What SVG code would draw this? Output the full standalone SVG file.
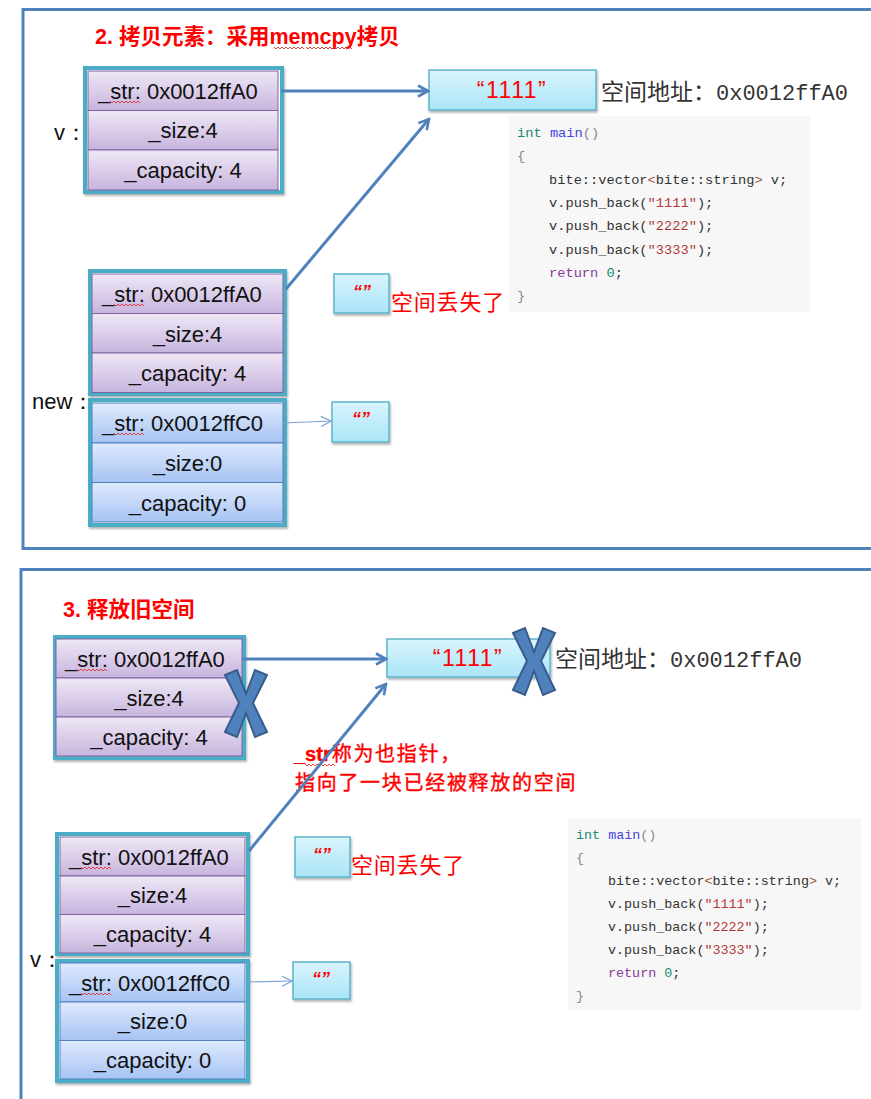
<svg xmlns="http://www.w3.org/2000/svg" width="871" height="1099" viewBox="0 0 871 1099">
<defs>
<linearGradient id="gPurple" x1="0" y1="0" x2="0" y2="1"><stop offset="0" stop-color="#efe8f6"/><stop offset="1" stop-color="#c7b4de"/></linearGradient>
<linearGradient id="gBlue" x1="0" y1="0" x2="0" y2="1"><stop offset="0" stop-color="#dfeafd"/><stop offset="1" stop-color="#a6c3f3"/></linearGradient>
<linearGradient id="gCyan" x1="0" y1="0" x2="0" y2="1"><stop offset="0" stop-color="#daf4fc"/><stop offset="1" stop-color="#a9e5f7"/></linearGradient>
<filter id="sh" x="-10%" y="-10%" width="125%" height="130%"><feDropShadow dx="1" dy="2" stdDeviation="1.2" flood-color="#000" flood-opacity="0.3"/></filter>
<marker id="ahThick" viewBox="0 0 14 14" refX="12" refY="7" markerWidth="14" markerHeight="14" markerUnits="userSpaceOnUse" orient="auto">
<path d="M2,1.5 L12,7 L2,12.5" fill="none" stroke="#4f81bd" stroke-width="2.6" stroke-linejoin="miter"/>
</marker>
<marker id="ahThin" viewBox="0 0 12 12" refX="11" refY="6" markerWidth="12" markerHeight="12" markerUnits="userSpaceOnUse" orient="auto">
<path d="M1,1 L11,6 L1,11" fill="none" stroke="#7aa3d6" stroke-width="1.2"/>
</marker>
<path id="squig" d="M0,0 l2,2 l2,-2 l2,2 l2,-2 l2,2 l2,-2 l2,2 l2,-2 l2,2 l2,-2 l2,2 l2,-2 l2,2 l2,-2 l2,2" fill="none" stroke="#e03030" stroke-width="0.9"/>
<polygon id="bigX" points="0,5 12,0 21,24 30,0 42,5 28,33 42,62 30,67 21,43 12,67 0,62 14,33" fill="#4f81bd" stroke="#385d8a" stroke-width="2" stroke-linejoin="miter"/>
</defs>
<style>
.frame{fill:none;stroke:#4f81bd;stroke-width:3}
.teal{fill:#ffffff;stroke:#4bacc6;stroke-width:4}
.rowP{fill:url(#gPurple);stroke:#8064a2;stroke-width:1}
.rowB{fill:url(#gBlue);stroke:#4f81bd;stroke-width:1}
.cbox{fill:url(#gCyan);stroke:#5fb3cb;stroke-width:1.5}
.ft{font-family:"Liberation Sans",Arial,sans-serif;font-size:22px;fill:#111}
.mid{text-anchor:middle}
.title{font-family:"Liberation Sans","Noto Sans CJK SC",sans-serif;font-size:21.5px;font-weight:bold;fill:#ff0000}
.red{font-family:"Noto Sans CJK SC",sans-serif;fill:#ff0000}
.lost{font-size:22px;letter-spacing:0.8px}
.note{font-size:20px;letter-spacing:1.7px;stroke:#ff0000;stroke-width:0.4}
.addr{font-family:"Noto Sans CJK SC",sans-serif;font-size:23px;fill:#333}
.addrL{font-family:"Liberation Mono",monospace;font-size:22px}
.q{font-family:"Liberation Sans",sans-serif;font-size:18px;font-style:italic;font-weight:bold;fill:#ff0000;text-anchor:middle}
.s1111{font-family:"Liberation Sans",sans-serif;font-size:23px;letter-spacing:1.5px;fill:#ff0000;text-anchor:middle}
.code{font-family:"Liberation Mono",monospace;fill:#333}
.cbg{fill:#f7f7f7}
.kw{fill:#1a8a70}
.fn{fill:#4545e0}
.pu{fill:#888}
.st{fill:#b03a3a}
.rt{fill:#8a3a9a}
.ang{fill:#9a5a3a}
.thick{fill:none;stroke:#4f81bd;stroke-width:3;marker-end:url(#ahThick)}
.thin{fill:none;stroke:#7aa3d6;stroke-width:1.2;marker-end:url(#ahThin)}
</style>
<rect width="871" height="1099" fill="#ffffff"/>

<!-- panel frames -->
<rect class="frame" x="23" y="9.5" width="900" height="539"/>
<rect class="frame" x="21" y="569.5" width="900" height="600"/>

<!-- ===== top panel ===== -->
<g id="title2"><text class="title" x="95" y="44">2. 拷贝元素：采用memcpy拷贝</text><use href="#squig" x="274" y="47"/><use href="#squig" x="306" y="47"/><use href="#squig" x="322" y="47"/></g>

<g id="labelV1"><text class="ft" x="54" y="140">v：</text></g>

<g id="structV1">
<rect class="teal" x="85" y="68" width="197" height="124" filter="url(#sh)"/>
<rect class="rowP" x="88" y="71" width="190" height="39.5"/>
<rect class="rowP" x="88" y="110.5" width="190" height="39.5"/>
<rect class="rowP" x="88" y="150" width="190" height="40"/>
<text class="ft" x="98" y="99">_str: 0x0012ffA0</text>
<use href="#squig" x="110" y="101"/>
<text class="ft mid" x="183" y="138">_size:4</text>
<text class="ft mid" x="183" y="178">_capacity: 4</text>
</g>

<g id="box1111a">
<rect class="cbox" x="429" y="70" width="167" height="40" filter="url(#sh)"/>
<text class="s1111" x="512" y="98">“1111”</text>
</g>
<g id="addrA"><text class="addr" x="601" y="100">空间地址：<tspan class="addrL">0x0012ffA0</tspan></text></g>

<g id="codeA">
<rect class="cbg" x="509" y="116" width="301" height="196"/>
<g class="code" font-size="13.7px">
<text x="517" y="137"><tspan class="kw">int</tspan> <tspan class="fn">main</tspan><tspan class="pu">()</tspan></text>
<text x="517" y="160.3" class="pu">{</text>
<text x="549" y="183.6">bite::vector<tspan class="ang">&lt;</tspan>bite::string<tspan class="ang">&gt;</tspan> v;</text>
<text x="549" y="206.9">v.push_back(<tspan class="st">"1111"</tspan>);</text>
<text x="549" y="230.2">v.push_back(<tspan class="st">"2222"</tspan>);</text>
<text x="549" y="253.5">v.push_back(<tspan class="st">"3333"</tspan>);</text>
<text x="549" y="276.8"><tspan class="rt">return</tspan> <tspan class="kw">0</tspan>;</text>
<text x="517" y="300.1" class="pu">}</text>
</g>
</g>

<g id="labelNew"><text class="ft" x="32" y="409">new：</text></g>

<g id="structOldA">
<rect class="teal" x="90" y="271" width="195" height="123" filter="url(#sh)"/>
<rect class="rowP" x="92" y="274" width="191" height="39.5"/>
<rect class="rowP" x="92" y="313.5" width="191" height="39.5"/>
<rect class="rowP" x="92" y="353" width="191" height="39.5"/>
<text class="ft" x="102" y="302">_str: 0x0012ffA0</text>
<use href="#squig" x="114" y="304"/>
<text class="ft mid" x="187.5" y="341.5">_size:4</text>
<text class="ft mid" x="187.5" y="381">_capacity: 4</text>
</g>

<g id="structNewA">
<rect class="teal" x="90" y="400" width="195" height="125" filter="url(#sh)"/>
<rect class="rowB" x="92" y="403" width="191" height="40"/>
<rect class="rowB" x="92" y="443" width="191" height="39.5"/>
<rect class="rowB" x="92" y="482.5" width="191" height="39.5"/>
<text class="ft" x="102" y="431">_str: 0x0012ffC0</text>
<use href="#squig" x="114" y="433"/>
<text class="ft mid" x="187.5" y="471">_size:0</text>
<text class="ft mid" x="187.5" y="510.5">_capacity: 0</text>
</g>

<g id="emptyA1">
<rect class="cbox" x="334" y="274" width="55" height="39" filter="url(#sh)"/>
<text class="q" x="362" y="298">“”</text>
</g>
<g id="lostA"><text class="red lost" x="391" y="310">空间丢失了</text></g>

<g id="emptyA2">
<rect class="cbox" x="332" y="402" width="57" height="40" filter="url(#sh)"/>
<text class="q" x="361" y="425">“”</text>
</g>

<!-- ===== bottom panel ===== -->
<g id="title3"><text class="title" x="63" y="617">3. 释放旧空间</text></g>

<g id="structOldB">
<rect class="teal" x="55" y="637" width="189" height="121" filter="url(#sh)"/>
<rect class="rowP" x="56" y="639" width="186" height="39"/>
<rect class="rowP" x="56" y="678" width="186" height="39"/>
<rect class="rowP" x="56" y="717" width="186" height="39"/>
<text class="ft" x="65" y="666.5">_str: 0x0012ffA0</text>
<use href="#squig" x="77" y="669"/>
<text class="ft mid" x="149" y="705.5">_size:4</text>
<text class="ft mid" x="149" y="744.5">_capacity: 4</text>
</g>

<g id="box1111b">
<rect class="cbox" x="387" y="639" width="163" height="38" filter="url(#sh)"/>
<text class="s1111" x="468" y="666">“1111”</text>
</g>
<g id="addrB"><text class="addr" x="555" y="667">空间地址：<tspan class="addrL">0x0012ffA0</tspan></text></g>

<g id="xStruct"><use href="#bigX" x="225" y="670"/></g>
<g id="xBox"><use href="#bigX" x="513" y="628"/></g>

<g id="note">
<text class="red note" x="294" y="761"><tspan font-family="Liberation Sans, sans-serif" font-weight="bold" letter-spacing="0">_str</tspan><tspan dx="1">称为也指针，</tspan></text>
<use href="#squig" x="305" y="764"/>
<text class="red note" x="295" y="790">指向了一块已经被释放的空间</text>
</g>

<g id="codeB">
<rect class="cbg" x="568" y="818" width="293" height="192"/>
<g class="code" font-size="13.4px">
<text x="576" y="839"><tspan class="kw">int</tspan> <tspan class="fn">main</tspan><tspan class="pu">()</tspan></text>
<text x="576" y="862" class="pu">{</text>
<text x="608" y="885">bite::vector<tspan class="ang">&lt;</tspan>bite::string<tspan class="ang">&gt;</tspan> v;</text>
<text x="608" y="908">v.push_back(<tspan class="st">"1111"</tspan>);</text>
<text x="608" y="931">v.push_back(<tspan class="st">"2222"</tspan>);</text>
<text x="608" y="954">v.push_back(<tspan class="st">"3333"</tspan>);</text>
<text x="608" y="977"><tspan class="rt">return</tspan> <tspan class="kw">0</tspan>;</text>
<text x="576" y="1000" class="pu">}</text>
</g>
</g>

<g id="structOldC">
<rect class="teal" x="57" y="834" width="191" height="120" filter="url(#sh)"/>
<rect class="rowP" x="60" y="837" width="185" height="39"/>
<rect class="rowP" x="60" y="876" width="185" height="38.5"/>
<rect class="rowP" x="60" y="914.5" width="185" height="38.5"/>
<text class="ft" x="69" y="864.5">_str: 0x0012ffA0</text>
<use href="#squig" x="81" y="867"/>
<text class="ft mid" x="152.5" y="903">_size:4</text>
<text class="ft mid" x="152.5" y="941.5">_capacity: 4</text>
</g>

<g id="labelV2"><text class="ft" x="30" y="967">v：</text></g>

<g id="structNewC">
<rect class="teal" x="57" y="961" width="191" height="120" filter="url(#sh)"/>
<rect class="rowB" x="60" y="963" width="185" height="39"/>
<rect class="rowB" x="60" y="1002" width="185" height="38.5"/>
<rect class="rowB" x="60" y="1040.5" width="185" height="38.5"/>
<text class="ft" x="69" y="990.5">_str: 0x0012ffC0</text>
<use href="#squig" x="81" y="993"/>
<text class="ft mid" x="152.5" y="1029">_size:0</text>
<text class="ft mid" x="152.5" y="1067.5">_capacity: 0</text>
</g>

<g id="emptyC1">
<rect class="cbox" x="295" y="837" width="55" height="40" filter="url(#sh)"/>
<text class="q" x="322" y="861">“”</text>
</g>
<g id="lostC"><text class="red lost" x="351" y="873">空间丢失了</text></g>

<g id="emptyC2">
<rect class="cbox" x="293" y="962" width="57" height="37" filter="url(#sh)"/>
<text class="q" x="321" y="985">“”</text>
</g>

<!-- connectors -->
<g id="connectors">
<line class="thick" x1="281" y1="91" x2="428" y2="91"/>
<line class="thick" x1="286" y1="289" x2="429" y2="119"/>
<line class="thin" x1="283" y1="423" x2="331" y2="421"/>
<line class="thick" x1="243" y1="659" x2="386" y2="659"/>
<line class="thick" x1="249" y1="851" x2="386" y2="684"/>
<line class="thin" x1="245" y1="982" x2="292" y2="981"/>
</g>
</svg>
